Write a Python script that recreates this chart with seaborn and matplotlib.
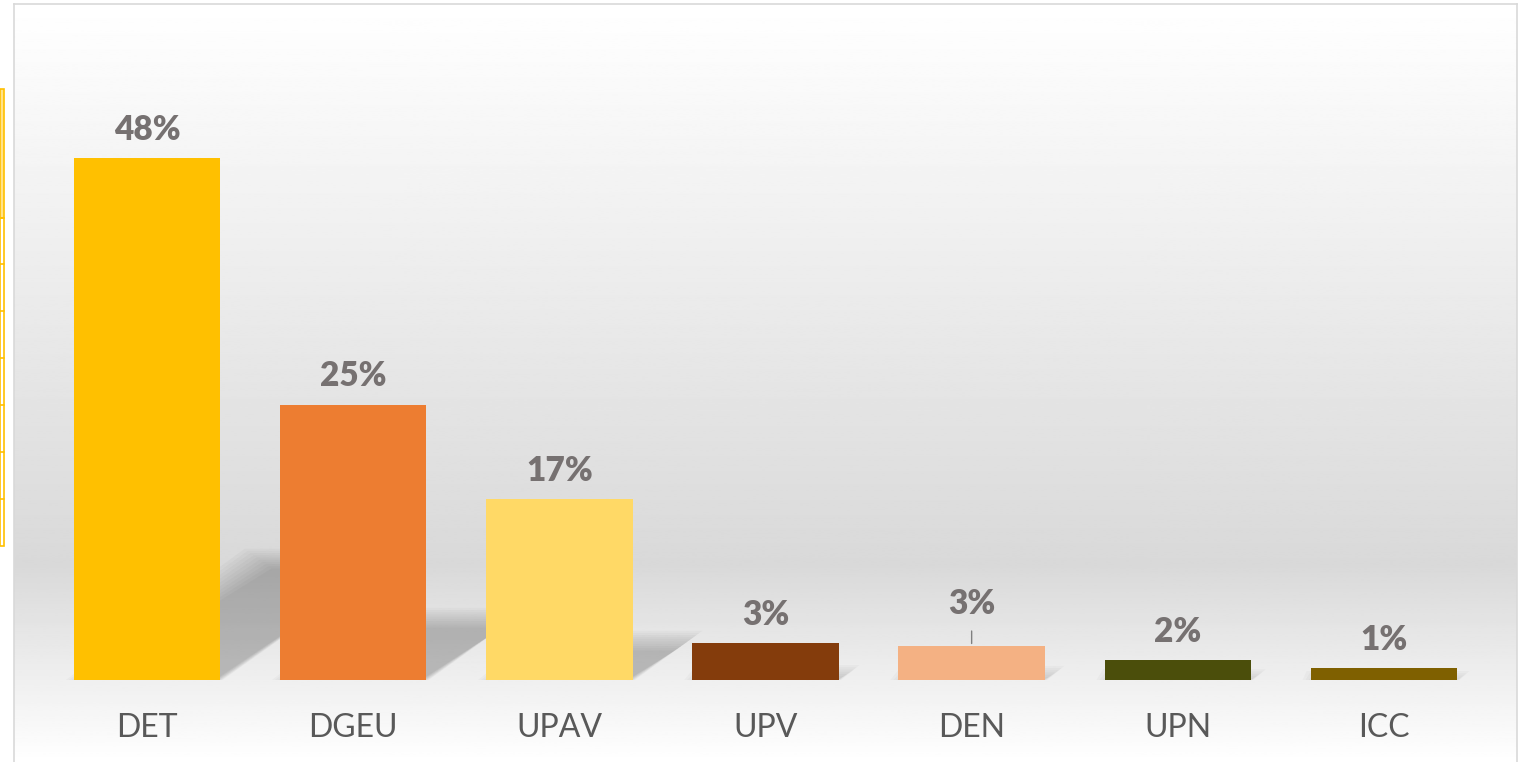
import numpy as np
import pandas as pd
import seaborn as sns
import matplotlib.pyplot as plt
from matplotlib.patches import Polygon, Rectangle

# data (share of total, %)
categories = ["DET", "DGEU", "UPAV", "UPV", "DEN", "UPN", "ICC"]
values = [48.0, 25.3, 16.6, 3.4, 3.1, 1.8, 1.1]
bar_colors = ["#FFC000", "#ED7D31", "#FFD966", "#843C0C", "#F4B183", "#4B4E0B", "#7F6000"]

df = pd.DataFrame({"unit": categories, "share": values})

W, H = 1524, 762
sns.set_theme(style="white")
plt.rcParams["font.family"] = ["Lato", "DejaVu Sans"]

fig = plt.figure(figsize=(W / 100, H / 100), dpi=100)
fig.patch.set_facecolor("white")

# chart area background: white -> grey -> white vertical gradient
bg = fig.add_axes([14 / W, 0, (1517 - 14) / W, 758 / H])
rows = np.linspace(0, 1, 400)
grey = np.interp(rows, [0, 0.74, 1.0], [1.0, 0.85, 1.0])
bg.imshow(np.repeat(grey[:, None], 2, axis=1), cmap="gray", vmin=0, vmax=1,
          aspect="auto", extent=[0, 1, 0, 1], origin="upper")
bg.set_xlim(0, 1)
bg.set_ylim(0, 1)
bg.set_xticks([])
bg.set_yticks([])
for sp in bg.spines.values():
    sp.set_color("#d9d9d9")
    sp.set_linewidth(1.2)
bg.spines["bottom"].set_visible(False)

# bit of a neighbouring table cut off at the left edge
fig.patches.append(Rectangle((0, (H - 218) / H), 3.5 / W, 129 / H, transform=fig.transFigure,
                             facecolor="#FFE38A", edgecolor="#FFC000", lw=1.2))
fig.patches.append(Rectangle((0, (H - 546) / H), 3.5 / W, 328 / H, transform=fig.transFigure,
                             facecolor="none", edgecolor="#FFC000", lw=1.2))
for yy in [264, 311, 358, 405, 452, 499]:
    fig.lines.append(plt.Line2D([0, 3.5 / W], [(H - yy) / H] * 2, transform=fig.transFigure,
                                color="#FFC000", lw=1.2))

# main axes
ax = fig.add_axes([44 / W, (H - 680) / H, 1443 / W, 620 / H])
ax.patch.set_alpha(0)

bar_w = 0.71
sns.barplot(data=df, x="unit", y="share", hue="unit", palette=bar_colors,
            width=bar_w, saturation=1, legend=False, ax=ax, zorder=3, linewidth=0)

# soft perspective shadows behind bars (sheared copies of each bar, stacked for a blur)
s = 0.24
for i, h in enumerate(values):
    dx = 0.0181 * h
    for k in np.linspace(-0.04, 0.09, 10):
        top = max(s * h - k * 14, 0.05)
        pts = [(i - bar_w / 2 + k, 0), (i + bar_w / 2 - k * 0.3, 0),
               (i + bar_w / 2 + dx - k, top), (i - bar_w / 2 + dx + k, top)]
        ax.add_patch(Polygon(pts, closed=True, facecolor="black", alpha=0.022, lw=0, zorder=1))

# value labels
for i, v in enumerate(values):
    pad = 9
    if categories[i] == "DEN":
        pad = 19
        ax.annotate("", xy=(i, v), xytext=(0, 13), textcoords="offset points",
                    arrowprops=dict(arrowstyle="-", color="#7f7f7f", lw=1), zorder=4)
    ax.annotate(f"{v:.0f}%", xy=(i, v), xytext=(0, pad), textcoords="offset points",
                ha="center", va="bottom", fontsize=24, fontweight="heavy", color="#767171",
                zorder=5)

ax.set_xlim(-0.5, len(categories) - 0.5)
ax.set_ylim(0, 620 / 10.875)
ax.set_xlabel("")
ax.set_ylabel("")
ax.set_yticks([])
ax.tick_params(axis="x", length=0, pad=24, labelsize=23, labelcolor="#595959")
sns.despine(ax=ax, left=True, bottom=True)

fig.savefig("out.png", dpi=100)
